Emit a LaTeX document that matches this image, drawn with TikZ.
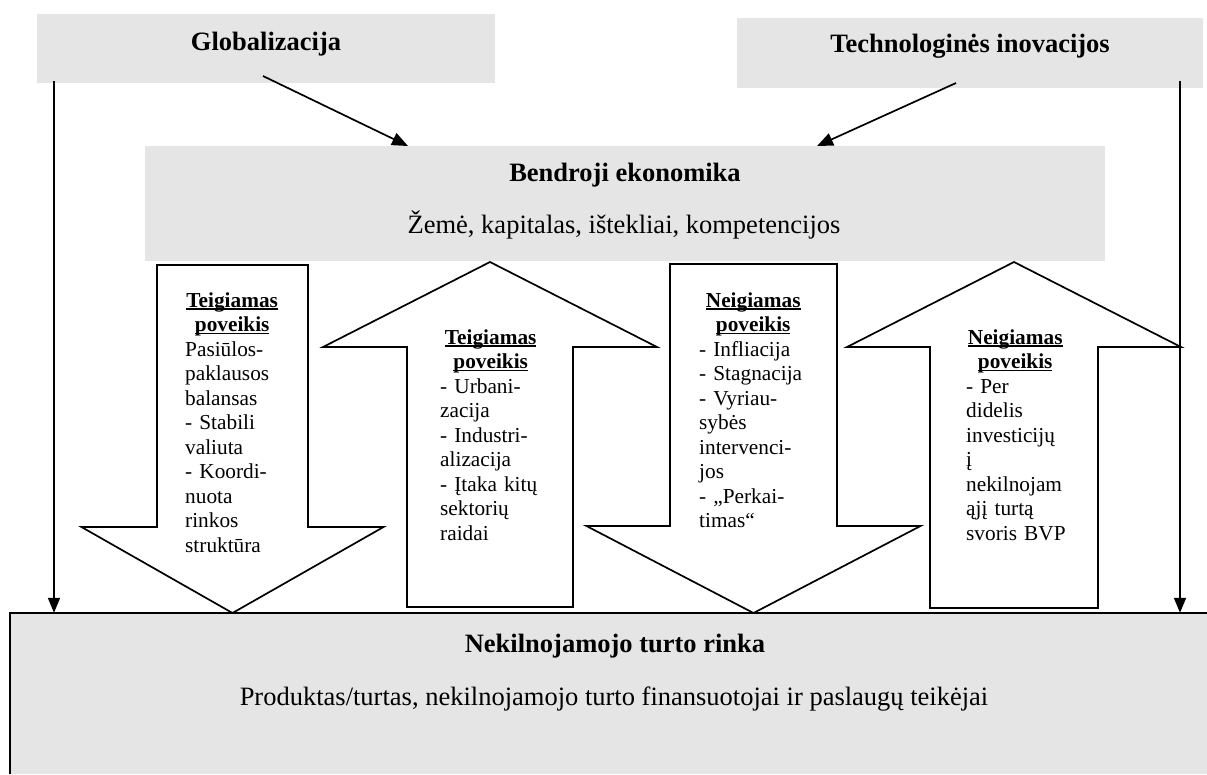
\documentclass[tikz,border=0pt]{standalone}
\usepackage{fontspec}
\setmainfont{Liberation Serif}
\usetikzlibrary{arrows.meta,positioning}

\tikzset{
  greybox/.style={fill=black!10, draw=none, inner sep=0pt},
  headtext/.style={font=\fontsize{26.5}{30.5}\selectfont\bfseries, inner sep=0pt, anchor=base},
  plaintext/.style={font=\fontsize{26.5}{30.5}\selectfont, inner sep=0pt, anchor=base},
  efftext/.style={font=\fontsize{21.3}{24.5}\selectfont, inner sep=0pt, align=left, anchor=base west, text width=130pt},
  flow/.style={line width=1.7pt, -{Triangle[length=16pt,width=13pt]}},
  blockline/.style={draw, line width=1.7pt, fill=white, line join=miter},
}
% underline close to the baseline
\newcommand{\undl}[1]{\leavevmode\setbox0\hbox{#1}\rlap{\rule[-2.5pt]{\wd0}{1.4pt}}\box0}
% heading of an effect box: two bold underlined lines, centred in a given width
\newcommand{\effhead}[3]{\makebox[#1]{\bfseries\undl{#2}}\\\makebox[#1]{\bfseries\undl{#3}}\\}
% block arrow: centre x, shaft half width, head half width, tail y, head base y, tip y
\newcommand{\fatarrow}[6]{%
  \draw[blockline] (#1-#2,#4) -- (#1+#2,#4) -- (#1+#2,#5) -- (#1+#3,#5) -- (#1,#6)
    -- (#1-#3,#5) -- (#1-#2,#5) -- cycle;}

\begin{document}
\begin{tikzpicture}[x=1pt, y=-1pt]
  \useasboundingbox (0,0) rectangle (1207,774);
  % Define boxes
  \node[greybox, minimum width=458pt, minimum height=69pt] (glob) at (266,48.5) {};
  \node[greybox, minimum width=466pt, minimum height=70pt] (tech) at (970,53) {};
  \node[greybox, minimum width=960pt, minimum height=115pt] (econ) at (625,203.5) {};
  \node[greybox, minimum width=1197pt, minimum height=161pt] (market) at (608.5,693.5) {};
  \draw[line width=2.6pt] (market.south west) -- (market.north west) -- (market.north east);

  % Block arrows between economy and market
  \fatarrow{232.5}{75.5}{151}{265}{527}{613}
  \fatarrow{490}{83}{167}{607}{347}{262}
  \fatarrow{753.5}{83.5}{167}{264}{526}{613}
  \fatarrow{1014}{84}{167}{608}{347}{262}

  % Box texts
  \node[headtext] (globtxt) at (266,50) {Globalizacija};
  \node[headtext] (techtxt) at (970,52) {Technologinės inovacijos};
  \node[headtext] (econtxt) at (625,181) {Bendroji ekonomika};
  \node[plaintext] (econsub) at (624,233) {Žemė, kapitalas, ištekliai, kompetencijos};
  \node[headtext] (markettxt) at (615,652) {Nekilnojamojo turto rinka};
  \node[plaintext] (marketsub) at (614,705) {Produktas/turtas, nekilnojamojo turto finansuotojai ir paslaugų teikėjai};

  % Effect texts
  \node[efftext] (eff1) at (185,307) {\effhead{94pt}{Teigiamas}{poveikis}Pasiūlos-\\paklausos\\balansas\\- Stabili\\valiuta\\- Koordi-\\nuota\\rinkos\\struktūra};
  \node[efftext] (eff2) at (440,344) {\effhead{101pt}{Teigiamas}{poveikis}- Urbani-\\zacija\\- Industri-\\alizacija\\- Įtaka kitų\\sektorių\\raidai};
  \node[efftext] (eff3) at (699,307) {\effhead{108pt}{Neigiamas}{poveikis}- Infliacija\\- Stagnacija\\- Vyriau-\\sybės\\intervenci-\\jos\\- „Perkai-\\timas“};
  \node[efftext] (eff4) at (966,344) {\effhead{98pt}{Neigiamas}{poveikis}- Per\\didelis\\investicijų\\į\\nekilnojam\\ąjį turtą\\svoris BVP};

  % Connect nodes
  \coordinate (globout) at (263,76);
  \coordinate (globin) at (408,146);
  \coordinate (techout) at (956,83);
  \coordinate (techin) at (817,146);
  \coordinate (leftout) at (54,81);
  \coordinate (rightout) at (1180,81);
  \draw[flow] (globout) -- (globin);
  \draw[flow] (techout) -- (techin);
  \draw[flow, -{Triangle[length=15pt,width=12pt]}] (leftout) -- (leftout |- market.north);
  \draw[flow, -{Triangle[length=15pt,width=12pt]}] (rightout) -- (rightout |- market.north);
\end{tikzpicture}
\end{document}
